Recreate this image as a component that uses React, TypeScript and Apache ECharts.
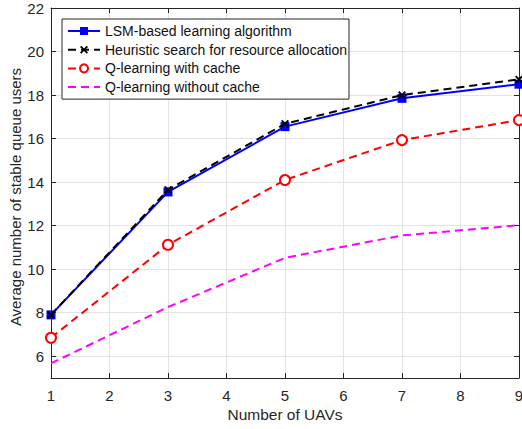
import React, { useEffect, useRef } from "react";
import * as echarts from "echarts";

const uavs = [1, 3, 5, 7, 9];
const lsm = [7.9, 13.55, 16.55, 17.85, 18.5];
const heuristic = [7.9, 13.65, 16.68, 18.0, 18.72];
const qCache = [6.85, 11.12, 14.1, 15.93, 16.85];
const qNoCache = [5.67, 8.26, 10.52, 11.55, 12.02];
const seriesNames = [
  "LSM-based learning algorithm",
  "Heuristic search for resource allocation",
  "Q-learning with cache",
  "Q-learning without cache",
];

const FONT = "'Liberation Sans', Arial, sans-serif";
const AX = "#262626";

const toPairs = (ys: number[]) => uavs.map((x, i) => [x, ys[i]]);

const crossPath =
  "path://M1.6,0 L5,3.4 L8.4,0 L10,1.6 L6.6,5 L10,8.4 L8.4,10 L5,6.6 L1.6,10 L0,8.4 L3.4,5 L0,1.6 Z";

export default function App() {
  const ref = useRef<HTMLDivElement>(null);
  useEffect(() => {
    if (!ref.current) return;
    const chart = echarts.init(ref.current, undefined, { renderer: "svg" });
    const axisCommon = {
      axisLine: { show: true, lineStyle: { color: AX, width: 1 } },
      axisTick: { show: true, inside: true, length: 5, lineStyle: { color: AX } },
    };
    chart.setOption({
      animation: false,
      backgroundColor: "#fff",
      grid: { left: 51, right: 3, top: 8, bottom: 51, containLabel: false, outerBoundsMode: "none" },
      legend: {
        orient: "vertical",
        left: 62,
        top: 19,
        data: seriesNames,
        backgroundColor: "#fff",
        borderColor: AX,
        borderWidth: 1,
        padding: [5, 2, 5, 5],
        itemWidth: 32,
        itemHeight: 10,
        itemGap: 4.7,
        textStyle: { fontFamily: FONT, fontSize: 14, color: "#111", lineHeight: 14 },
      },
      xAxis: [
        {
          type: "value",
          min: 1,
          max: 9,
          interval: 1,
          position: "bottom",
          ...axisCommon,
          axisLabel: { fontFamily: FONT, fontSize: 15, color: AX, margin: 10 },
          splitLine: { show: true, lineStyle: { color: "#e3e3e3", width: 1 } },
          name: "Number of UAVs",
          nameLocation: "middle",
          nameGap: 28,
          nameMoveOverlap: false,
          nameTextStyle: { fontFamily: FONT, fontSize: 15.5, color: AX },
        },
        {
          type: "value",
          min: 1,
          max: 9,
          interval: 1,
          position: "top",
          ...axisCommon,
          axisLabel: { show: false },
          splitLine: { show: false },
        },
      ],
      yAxis: [
        {
          type: "value",
          min: 5,
          max: 22,
          splitNumber: 9,
          position: "left",
          ...axisCommon,
          axisLabel: {
            fontFamily: FONT,
            fontSize: 15,
            color: AX,
            margin: 7,
            formatter: (v: number) => (v % 2 === 0 ? String(v) : ""),
          },
          splitLine: { show: true, lineStyle: { color: "#e3e3e3", width: 1 } },
          name: "Average number of stable queue users",
          nameLocation: "middle",
          nameGap: 28,
          nameMoveOverlap: false,
          nameTextStyle: { fontFamily: FONT, fontSize: 15, color: AX, padding: [0, 8, 0, 0] },
        },
        {
          type: "value",
          min: 5,
          max: 22,
          splitNumber: 9,
          position: "right",
          ...axisCommon,
          axisLabel: { show: false },
          splitLine: { show: false },
        },
      ],
      series: [
        {
          name: seriesNames[3],
          type: "line",
          data: toPairs(qNoCache),
          showSymbol: false,
          symbol: "circle",
          symbolSize: 6,
          lineStyle: { color: "#ff00ff", width: 2, type: [8, 5] },
          itemStyle: { color: "rgba(255,0,255,0)" },
          z: 2,
        },
        {
          name: seriesNames[2],
          type: "line",
          data: toPairs(qCache),
          symbol: "emptyCircle",
          symbolSize: 10,
          lineStyle: { color: "#ff0000", width: 2, type: [8, 5] },
          itemStyle: { color: "#ff0000", borderColor: "#ff0000", borderWidth: 2 },
          z: 3,
        },
        {
          name: seriesNames[0],
          type: "line",
          data: toPairs(lsm),
          symbol: "rect",
          symbolSize: 9,
          lineStyle: { color: "#0000ff", width: 2 },
          itemStyle: { color: "#0000ff" },
          z: 4,
        },
        {
          name: seriesNames[1],
          type: "line",
          data: toPairs(heuristic),
          symbol: crossPath,
          symbolSize: 8,
          lineStyle: { color: "#000", width: 2, type: [8, 5] },
          itemStyle: { color: "#000" },
          z: 5,
        },
      ],
    });
    return () => chart.dispose();
  }, []);
  return <div ref={ref} style={{ width: 522, height: 429, position: "absolute", left: 0, top: 0 }} />;
}
